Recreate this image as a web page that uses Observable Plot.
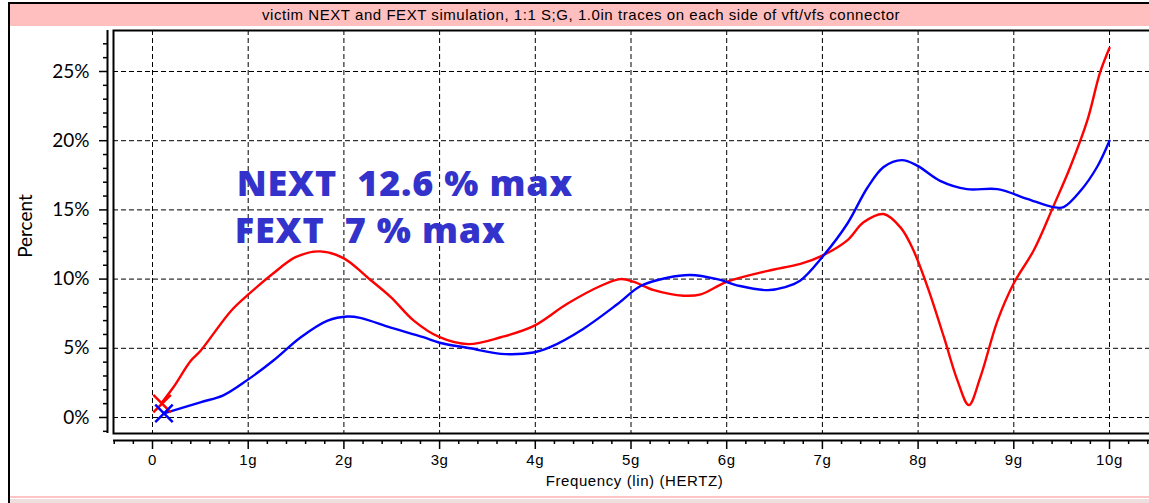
<!DOCTYPE html>
<html>
<head>
<meta charset="utf-8">
<script src="https://cdn.jsdelivr.net/npm/d3@7"></script>
<script src="https://cdn.jsdelivr.net/npm/@observablehq/plot@0.6"></script>
<style>
  html, body { margin: 0; padding: 0; background: #fff; }
  #wrap { position: relative; width: 1149px; height: 503px; overflow: hidden; background: #fff; }
  #band { position: absolute; left: 10px; top: 4px; width: 1139px; height: 22px; background: #ffbfbf;
          font-family: "Liberation Sans", Arial, sans-serif; font-size: 15px; letter-spacing: 0.55px; line-height: 22px; color: #000; }
  #band span { position: absolute; left: 252px; top: 0; white-space: nowrap; }
  #topline { position: absolute; left: 9px; top: 2px; width: 1140px; height: 2px; background: #000; }
  #leftline { position: absolute; left: 8px; top: 2px; width: 2px; height: 501px; background: #000; }
  #botline { position: absolute; left: 10px; top: 496px; width: 1139px; height: 2px; background: #ffc4c4; }
  #botband { position: absolute; left: 10px; top: 499px; width: 1139px; height: 4px; background: #eedede; }
  #chart { position: absolute; left: 0; top: 0; }
  #chart svg text { white-space: pre; }
  #chart .sans text, #chart text.sans { letter-spacing: 0.6px; }
  #chart .ann text, #chart text.ann { letter-spacing: 0.8px; }
</style>
</head>
<body>
<div id="wrap">
  <div id="topline"></div>
  <div id="band"><span id="title"></span></div>
  <div id="leftline"></div>
  <div id="botline"></div>
  <div id="botband"></div>
  <div id="chart"></div>
</div>
<script>
// ---- data ----
const title = "victim NEXT and FEXT simulation, 1:1 S;G, 1.0in traces on each side of vft/vfs connector";
const xLabel = "Frequency (lin) (HERTZ)";
const yLabel = "Percent";
const annotations = ["NEXT  12.6 % max", "FEXT  7 % max"];

const xMajorTicks = [0, 1, 2, 3, 4, 5, 6, 7, 8, 9, 10];
const xTickLabels = ["0", "1g", "2g", "3g", "4g", "5g", "6g", "7g", "8g", "9g", "10g"];
const xMinorTicks = [-0.4, -0.2, 0.2, 0.4, 0.6, 0.8, 1.2, 1.4, 1.6, 1.8, 2.2, 2.4, 2.6, 2.8, 3.2, 3.4, 3.6, 3.8,
  4.2, 4.4, 4.6, 4.8, 5.2, 5.4, 5.6, 5.8, 6.2, 6.4, 6.6, 6.8, 7.2, 7.4, 7.6, 7.8, 8.2, 8.4, 8.6, 8.8,
  9.2, 9.4, 9.6, 9.8, 10.2, 10.4];
const yMajorTicks = [0, 5, 10, 15, 20, 25];
const yTickLabels = ["0%", "5%", "10%", "15%", "20%", "25%"];
const yMinorTicks = [-1, 1, 2, 3, 4, 6, 7, 8, 9, 11, 12, 13, 14, 16, 17, 18, 19, 21, 22, 23, 24, 26, 27];

// NEXT (red)
const freqNext = [0.1, 0.22, 0.4, 0.5, 0.82, 1.02, 1.26, 1.5, 1.75, 2.0, 2.25, 2.49, 2.73, 3.0, 3.3, 3.64, 3.98,
  4.33, 4.68, 4.89, 5.03, 5.24, 5.55, 5.73, 6.0, 6.43, 6.77, 7.0, 7.26, 7.43, 7.64, 7.82, 7.95, 8.1, 8.27,
  8.41, 8.53, 8.65, 8.83, 9.0, 9.21, 9.41, 9.59, 9.77, 9.9, 10.0];
const pctNext = [1.1, 2.2, 4.1, 4.8, 7.7, 9.0, 10.4, 11.6, 12.0, 11.5, 10.1, 8.7, 7.0, 5.8, 5.3, 5.8, 6.6,
  8.2, 9.5, 10.0, 9.8, 9.2, 8.8, 8.9, 9.8, 10.6, 11.1, 11.7, 12.8, 14.1, 14.7, 13.7, 12.1, 9.4, 5.8,
  2.7, 0.9, 2.9, 7.0, 9.7, 12.1, 15.2, 18.1, 21.5, 24.9, 26.7];

// FEXT (blue)
const freqFext = [0.12, 0.5, 0.74, 0.99, 1.26, 1.55, 1.83, 2.04, 2.17, 2.49, 2.83, 3.0, 3.32, 3.64, 3.98, 4.16,
  4.5, 4.86, 5.1, 5.38, 5.62, 5.9, 6.14, 6.43, 6.6, 6.77, 7.0, 7.26, 7.47, 7.64, 7.83, 7.99, 8.23, 8.51,
  8.83, 9.14, 9.41, 9.52, 9.7, 9.87, 10.0];
const pctFext = [0.3, 1.1, 1.6, 2.7, 4.1, 5.8, 7.0, 7.3, 7.2, 6.5, 5.8, 5.4, 5.0, 4.6, 4.7, 5.1,
  6.4, 8.2, 9.5, 10.1, 10.3, 10.0, 9.5, 9.2, 9.4, 9.9, 11.6, 14.0, 16.6, 18.1, 18.6, 18.2, 17.1, 16.5,
  16.5, 15.8, 15.2, 15.2, 16.4, 18.1, 20.0];

const markerPoints = [
  {f: 0.1, p: 1.0, c: "red"},
  {f: 0.12, p: 0.3, c: "blue"}
];
const annotationPos = [{f: 0.88, p: 16.0}, {f: 0.86, p: 12.6}];

// ---- build ----
const nextData = freqNext.map((f, i) => ({f, p: pctNext[i]}));
const fextData = freqFext.map((f, i) => ({f, p: pctFext[i]}));
const annData = annotations.map((t, i) => ({t, ...annotationPos[i]}));
const yLabData = yMajorTicks.map((v, i) => ({v, t: yTickLabels[i]}));
const dash = "5,3";
const humanist = "Lato, 'Open Sans', sans-serif";

document.getElementById("title").textContent = title;

const chart = Plot.plot({
  width: 1149,
  height: 503,
  marginLeft: 113,
  marginTop: 30,
  marginRight: -2,
  marginBottom: 70,
  x: {domain: [0, 10], range: [152, 1109]},
  y: {domain: [0, 25], range: [417, 71]},
  style: {background: "transparent", fontFamily: "'Liberation Sans', Arial, sans-serif", fontSize: "13px", color: "black", overflow: "visible"},
  marks: [
    // grid
    Plot.ruleX(xMajorTicks, {stroke: "#000", strokeWidth: 1, strokeDasharray: dash}),
    Plot.ruleY(yMajorTicks, {stroke: "#000", strokeWidth: 1, strokeDasharray: dash}),
    Plot.frame({stroke: "#000", strokeWidth: 2}),
    // y axis spine + ticks
    Plot.ruleX([0], {dx: -45, stroke: "#000", strokeWidth: 2}),
    Plot.axisY(yMinorTicks, {anchor: "left", tickSize: 4, tickFormat: () => "", dx: -6, label: null, strokeWidth: 1.5}),
    Plot.axisY(yMajorTicks, {anchor: "left", tickSize: 8, dx: -6, tickFormat: () => "", label: null, strokeWidth: 1.5}),
    Plot.text(yLabData, {y: "v", text: "t", frameAnchor: "left", dx: -24, textAnchor: "end", lineAnchor: "middle",
      fontSize: 19, fontFamily: humanist}),
    // x axis line + ticks
    Plot.ruleY([0], {dy: 23, stroke: "#000", strokeWidth: 2}),
    Plot.axisX(xMinorTicks, {anchor: "bottom", tickSize: 4, dy: 7, tickFormat: () => "", label: null, strokeWidth: 1.5}),
    Plot.axisX(xMajorTicks, {anchor: "bottom", tickSize: 9, dy: 7, tickPadding: 5, label: null, strokeWidth: 1.5,
      tickFormat: d => xTickLabels[xMajorTicks.indexOf(d)], fontSize: 15, className: "sans"}),
    // axis labels
    Plot.text([xLabel], {frameAnchor: "bottom", textAnchor: "middle", lineAnchor: "middle", dy: 48, dx: 2, fontSize: 15, className: "sans"}),
    Plot.text([yLabel], {frameAnchor: "left", textAnchor: "middle", lineAnchor: "middle", dx: -88, dy: -6, rotate: -90,
      fontSize: 19, fontFamily: humanist}),
    // curves
    Plot.line(nextData, {x: "f", y: "p", stroke: "#ff0000", strokeWidth: 2.4, curve: "catmull-rom"}),
    Plot.line(fextData, {x: "f", y: "p", stroke: "#0000ff", strokeWidth: 2.4, curve: "catmull-rom"}),
    Plot.dot(markerPoints, {x: "f", y: "p", stroke: "c", symbol: "times", r: 8, strokeWidth: 2.5}),
    // annotation
    Plot.text(annData, {x: "f", y: "p", text: "t", textAnchor: "start", lineAnchor: "bottom",
      fontSize: 36, fontWeight: 800, fill: "#3333cc", fontFamily: "'Open Sans', Lato, sans-serif", className: "ann"})
  ]
});
document.getElementById("chart").appendChild(chart);
</script>
</body>
</html>
